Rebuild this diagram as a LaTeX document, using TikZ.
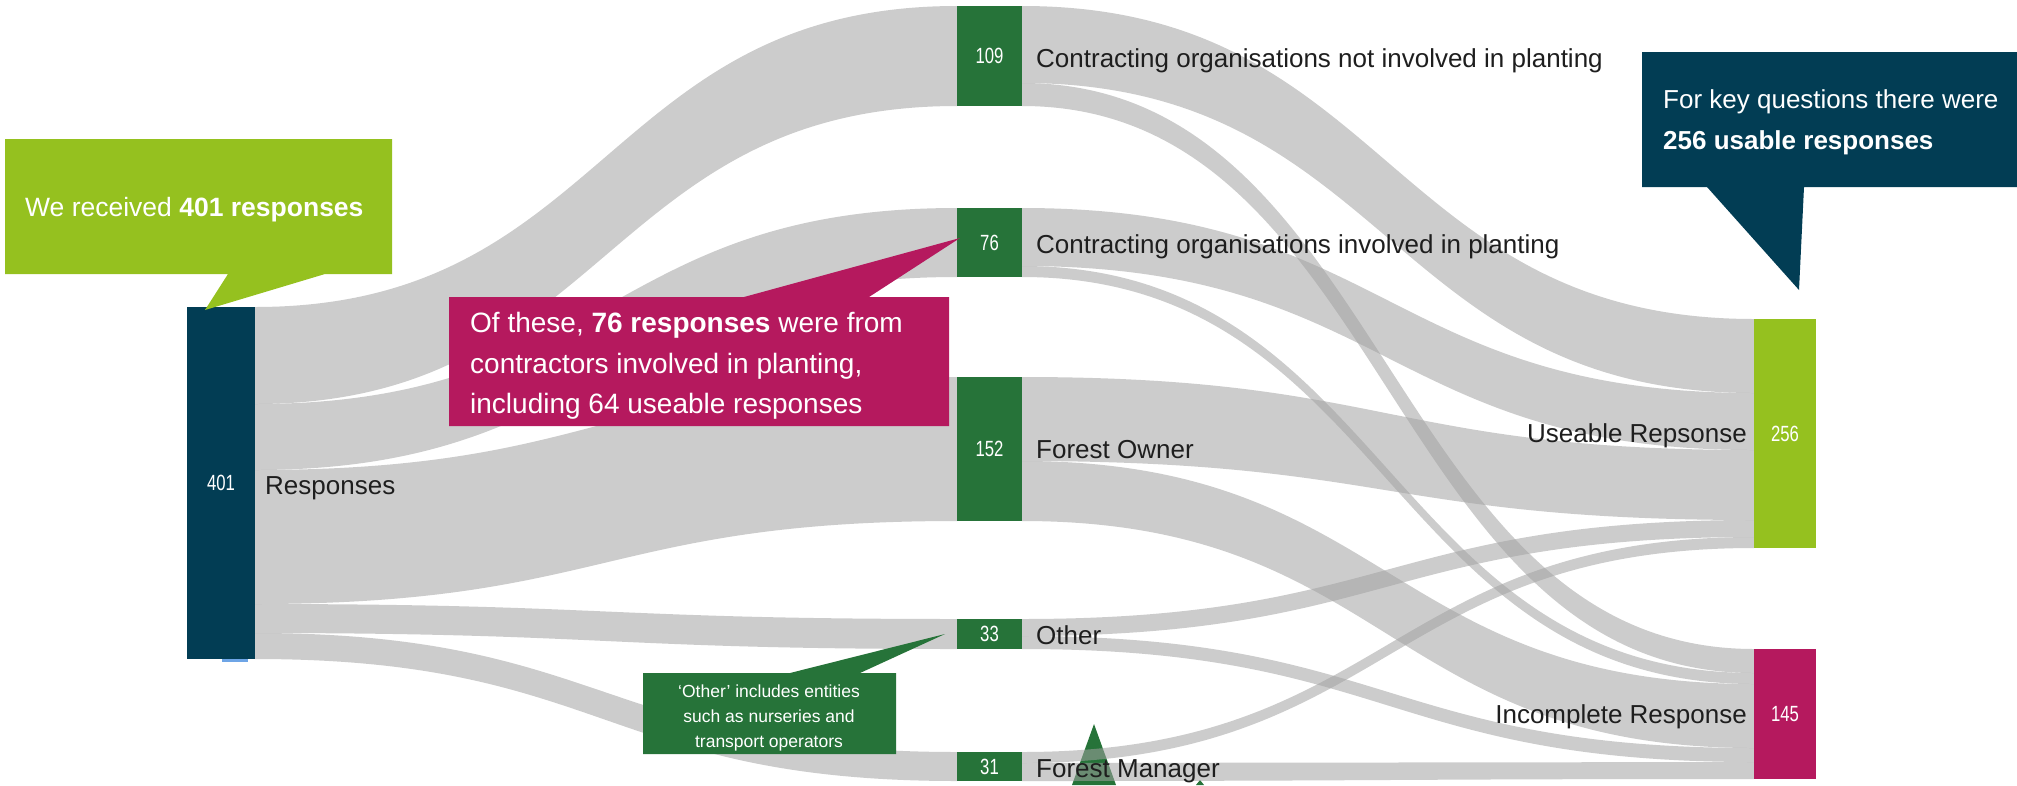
\documentclass[tikz,border=0pt]{standalone}
\usepackage{fontspec}
\setmainfont{Liberation Sans}
\newfontfamily\numfont[FakeStretch=0.76]{Liberation Sans}
\definecolor{navy}{RGB}{2,61,84}
\definecolor{dgreen}{RGB}{38,115,57}
\definecolor{lime}{RGB}{149,193,31}
\definecolor{magen}{RGB}{181,25,94}
\definecolor{flowgray}{RGB}{162,162,162}
\definecolor{labelcol}{RGB}{30,30,30}
\definecolor{tinyblue}{RGB}{110,165,230}
\tikzset{
  flowfill/.style={fill=flowgray, fill opacity=0.55},
  sknode/.style={rectangle, inner sep=0pt, outer sep=0pt, anchor=north west,
     text=white, font=\numfont\fontsize{22}{26}\selectfont},
  lbl/.style={inner sep=0pt, text=labelcol, font=\fontsize{26}{31}\selectfont},
  callouttext/.style={inner sep=0pt, text=white, anchor=base west},
}
\newcommand\flow[6]{%
  \fill[flowfill] (#1,#2) .. controls ({(#1+#4)/2},#2) and ({(#1+#4)/2},#5) .. (#4,#5)
    -- (#4,#6) .. controls ({(#1+#4)/2},#6) and ({(#1+#4)/2},#3) .. (#1,#3) -- cycle;}
\begin{document}
\begin{tikzpicture}[x=1pt,y=-1pt]
\useasboundingbox (0,0) rectangle (2017,785);

% pointer of a callout below the picture
\fill[dgreen] (1094,724) -- (1116,785) -- (1072,785) -- cycle;
\fill[dgreen] (1200,780) -- (1204,785) -- (1196,785) -- cycle;

% flows: Responses -> middle
\flow{255}{307}{404}{957}{6}{106}
\flow{255}{404}{470}{957}{208}{277}
\flow{255}{470}{604}{957}{377}{521}
\flow{255}{604}{633}{957}{619}{649}
\flow{255}{633}{659}{957}{752}{781}
% flows: middle -> outcome
\flow{1022}{6}{83}{1754}{319}{393}
\flow{1022}{83}{106}{1754}{649}{673}
\flow{1022}{208}{266}{1754}{393}{450}
\flow{1022}{266}{277}{1754}{673}{684}
\flow{1022}{377}{461}{1754}{450}{520}
\flow{1022}{461}{521}{1754}{684}{748}
\flow{1022}{619}{636}{1754}{520}{537}
\flow{1022}{636}{649}{1754}{748}{762}
\flow{1022}{752}{763}{1754}{537}{548}
\flow{1022}{763}{781}{1754}{762}{779}

% sankey nodes
\fill[tinyblue] (222,659) rectangle (248,662);
\node[sknode, fill=navy, minimum width=68pt, minimum height=352pt] (resp) at (187,307) {401};
\node[sknode, fill=dgreen, minimum width=65pt, minimum height=100pt] (notinv) at (957,6) {109};
\node[sknode, fill=dgreen, minimum width=65pt, minimum height=69pt] (inv) at (957,208) {76};
\node[sknode, fill=dgreen, minimum width=65pt, minimum height=144pt] (owner) at (957,377) {152};
\node[sknode, fill=dgreen, minimum width=65pt, minimum height=30pt] (other) at (957,619) {33};
\node[sknode, fill=dgreen, minimum width=65pt, minimum height=29pt] (manager) at (957,752) {31};
\node[sknode, fill=lime, minimum width=62pt, minimum height=229pt] (useable) at (1754,319) {256};
\node[sknode, fill=magen, minimum width=62pt, minimum height=130pt] (incomplete) at (1754,649) {145};

% labels
\node[lbl, anchor=base west] (lresp) at (265,494) {Responses};
\node[lbl, anchor=base west] (lnotinv) at (1036,67) {Contracting organisations not involved in planting};
\node[lbl, anchor=base west] (linv) at (1036,253) {Contracting organisations involved in planting};
\node[lbl, anchor=base west] (lowner) at (1036,458) {Forest Owner};
\node[lbl, anchor=base west] (lother) at (1036,644) {Other};
\node[lbl, anchor=base west] (lmanager) at (1036,777) {Forest Manager};
\node[lbl, anchor=base east] (luse) at (1747,442) {Useable Repsonse};
\node[lbl, anchor=base east] (linc) at (1747,723) {Incomplete Response};

% callout: received
\fill[lime] (5,139) -- (392,139) -- (392,274) -- (325,274) -- (205,310) -- (228,274) -- (5,274) -- cycle;
\node[callouttext, font=\fontsize{26.5}{31}\selectfont] (c1) at (25,216) {We received \textbf{401 responses}};

% callout: 76 responses
\fill[magen] (449,297) -- (744,297) -- (960,238) -- (869,297) -- (949,297) -- (949,426) -- (449,426) -- cycle;
\node[callouttext, font=\fontsize{28}{33}\selectfont] (c2a) at (470,332) {Of these, \textbf{76 responses} were from};
\node[callouttext, font=\fontsize{28}{33}\selectfont] (c2b) at (470,373) {contractors involved in planting,};
\node[callouttext, font=\fontsize{28}{33}\selectfont] (c2c) at (470,413) {including 64 useable responses};

% callout: usable responses
\fill[navy] (1642,52) -- (2017,52) -- (2017,187) -- (1804,187) -- (1799,290) -- (1707,187) -- (1642,187) -- cycle;
\node[callouttext, font=\fontsize{26}{31}\selectfont] (c3a) at (1663,108) {For key questions there were};
\node[callouttext, font=\fontsize{26}{31}\selectfont] (c3b) at (1663,149) {\textbf{256 usable responses}};

% callout: other
\fill[dgreen] (643,673) -- (790,673) -- (945,634) -- (860,673) -- (896,673) -- (896,754) -- (643,754) -- cycle;
\node[inner sep=0pt, text=white, anchor=base, font=\fontsize{17.5}{21}\selectfont] (c4a) at (769,697) {‘Other’ includes entities};
\node[inner sep=0pt, text=white, anchor=base, font=\fontsize{17.5}{21}\selectfont] (c4b) at (769,722) {such as nurseries and};
\node[inner sep=0pt, text=white, anchor=base, font=\fontsize{17.5}{21}\selectfont] (c4c) at (769,747) {transport operators};
\end{tikzpicture}
\end{document}
